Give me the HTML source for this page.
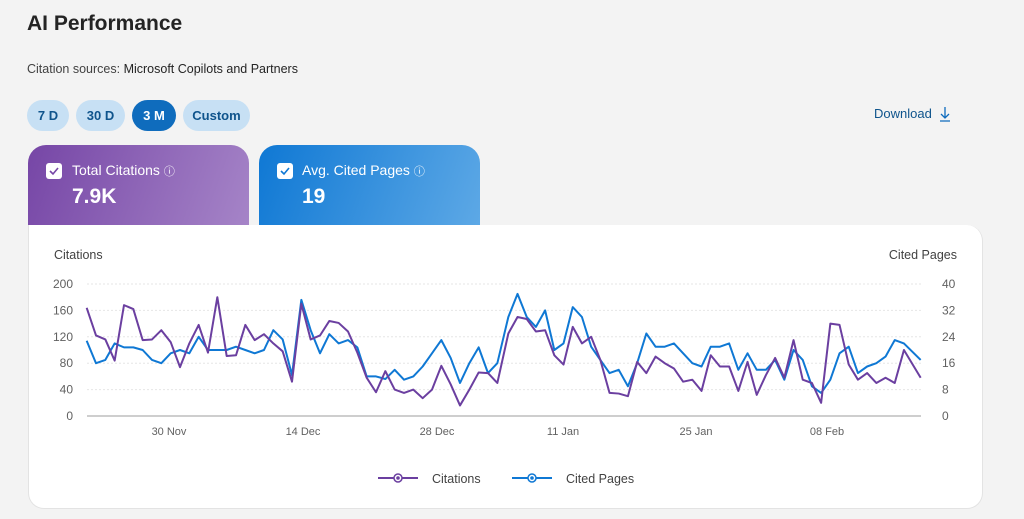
<!DOCTYPE html>
<html><head><meta charset="utf-8"><style>
*{margin:0;padding:0;box-sizing:border-box}
body{width:1024px;height:519px;background:#f3f3f3;font-family:"Liberation Sans",sans-serif;position:relative;overflow:hidden;color:#242424}
.a{position:absolute;white-space:nowrap}
.btn{position:absolute;top:100px;height:31px;border-radius:16px;background:#c7e0f4;color:#0f548c;font-weight:bold;font-size:13px;line-height:31px;text-align:center}
.card{position:absolute;top:145px;height:90px;width:221px;border-radius:18px 18px 0 0;color:#fff}
.cb{position:absolute;left:18px;top:18px;width:16px;height:16px;background:#fff;border-radius:3px}
</style></head><body>
<div class="a" style="left:27px;top:12px;font-size:21px;font-weight:600">AI Performance</div>
<div class="a" style="left:27px;top:62px;font-size:12.5px;color:#424242">Citation sources: <span style="color:#242424">Microsoft Copilots and Partners</span></div>
<div class="btn" style="left:27px;width:42px">7 D</div>
<div class="btn" style="left:76px;width:49px">30 D</div>
<div class="btn" style="left:132px;width:44px;background:#0f6cbd;color:#fff">3 M</div>
<div class="btn" style="left:183px;width:67px">Custom</div>
<div class="a" style="left:874px;top:106px;font-size:13px;color:#0f548c">Download</div>
<svg class="a" style="left:938px;top:106px" width="14" height="16"><path d="M7 1v11M3 8l4 4 4-4M2 15h10" stroke="#0f6cbd" stroke-width="1.3" fill="none"/></svg>
<div class="card" style="left:28px;background:linear-gradient(110deg,#7646a6,#a685c8)"><div class="cb"><svg width="16" height="16"><path d="M4 8l3 3 5-6" stroke="#7646a6" stroke-width="1.6" fill="none"/></svg></div>
<div class="a" style="left:44px;top:17px;font-size:14px">Total Citations <span style="font-size:11px">ⓘ</span></div>
<div class="a" style="left:44px;top:40px;font-size:21px;font-weight:bold">7.9K</div></div>
<div class="card" style="left:259px;background:linear-gradient(110deg,#0f78d4,#5ea9e6)"><div class="cb"><svg width="16" height="16"><path d="M4 8l3 3 5-6" stroke="#0f78d4" stroke-width="1.6" fill="none"/></svg></div>
<div class="a" style="left:43px;top:17px;font-size:14px">Avg. Cited Pages <span style="font-size:11px">ⓘ</span></div>
<div class="a" style="left:43px;top:40px;font-size:21px;font-weight:bold">19</div></div>
<div class="a" style="left:28px;top:225px;width:955px;height:284px;background:#fff;border-radius:0 16px 16px 16px;border:1px solid #e3e3e3;border-top:none"></div>
<svg class="a" style="left:0;top:0" width="1024" height="519" id="s">
<g font-size="12" fill="#424242" font-family="Liberation Sans">
<text x="54" y="259" font-size="12.5">Citations</text>
<text x="957" y="259" font-size="12.5" text-anchor="end">Cited Pages</text>
</g>
<g id="grid"></g>
<polyline id="pb" fill="none" stroke="#0f78d4" stroke-width="2" stroke-linejoin="round"/>
<polyline id="pp" fill="none" stroke="#6b3fa0" stroke-width="2" stroke-linejoin="round"/>
<g font-size="12.5" fill="#424242">
<line x1="378" y1="478" x2="418" y2="478" stroke="#6b3fa0" stroke-width="2"/><circle cx="398" cy="478" r="4" fill="#fff" stroke="#6b3fa0" stroke-width="1.5"/><circle cx="398" cy="478" r="1.8" fill="#6b3fa0"/>
<text x="432" y="483">Citations</text>
<line x1="512" y1="478" x2="552" y2="478" stroke="#0f78d4" stroke-width="2"/><circle cx="532" cy="478" r="4" fill="#fff" stroke="#0f78d4" stroke-width="1.5"/><circle cx="532" cy="478" r="1.8" fill="#0f78d4"/>
<text x="566" y="483">Cited Pages</text>
</g>
</svg>
<script>
var ns="http://www.w3.org/2000/svg",g=document.getElementById('grid');
function el(t,a,txt){var e=document.createElementNS(ns,t);for(var k in a)e.setAttribute(k,a[k]);if(txt)e.textContent=txt;g.appendChild(e);}
for(var i=0;i<=5;i++){var y=416-i*26.4;
 if(i>0)el('line',{x1:87,x2:921,y1:y,y2:y,stroke:'#e6e6e6','stroke-dasharray':'2 2'});
 el('text',{x:73,y:y+4,'text-anchor':'end','font-size':12,fill:'#616161'},String(i*40));
 el('text',{x:942,y:y+4,'font-size':12,fill:'#616161'},String(i*8));}
el('line',{x1:87,x2:921,y1:416,y2:416,stroke:'#9e9e9e'});
[[169,'30 Nov'],[303,'14 Dec'],[437,'28 Dec'],[563,'11 Jan'],[696,'25 Jan'],[827,'08 Feb']].forEach(function(d){el('text',{x:d[0],y:435,'text-anchor':'middle','font-size':11,fill:'#616161'},d[1]);});
var p2=[164,122,116,84,168,162,115,116,130,112,74,110,138,96,180,91,92,138,115,124,110,98,52,170,116,122,144,141,128,96,58,36,68,40,35,40,27,40,76,48,16,40,66,65,50];
var b2=[114,80,85,110,104,104,100,85,80,95,100,95,120,100,100,100,105,100,95,100,130,116,62,176,130,95,124,110,115,104,60,60,56,70,55,60,75,95,115,88,50,80,104,65,80];
var p3=[125,150,147,128,130,92,78,135,110,120,85,35,34,30,82,65,90,80,72,52,55,38,92,75,75,38,82,32,62,88,58,115,55,50,20,140,138,78,55,65,50,58,50,100,58];
var b3=[150,185,150,135,160,100,110,165,150,105,85,65,70,45,80,125,105,105,110,95,80,75,105,105,110,70,95,70,70,85,55,100,85,45,35,55,95,105,65,75,80,90,115,110,85];
var pp=[],pb=[];
for(var i=0;i<p2.length;i++){var x=40+(140+28*i)/3;pp.push(x+','+(416-p2[i]*0.66));pb.push(x+','+(416-b2[i]*0.66));}
for(var i=0;i<p3.length;i++){var xz=25+27.6*i;if(i==p3.length-1)xz=1262;var x=500+xz/3;pp.push(x+','+(416-p3[i]*0.66));pb.push(x+','+(416-b3[i]*0.66));}
document.getElementById('pp').setAttribute('points',pp.join(' '));
document.getElementById('pb').setAttribute('points',pb.join(' '));
</script>
</body></html>
